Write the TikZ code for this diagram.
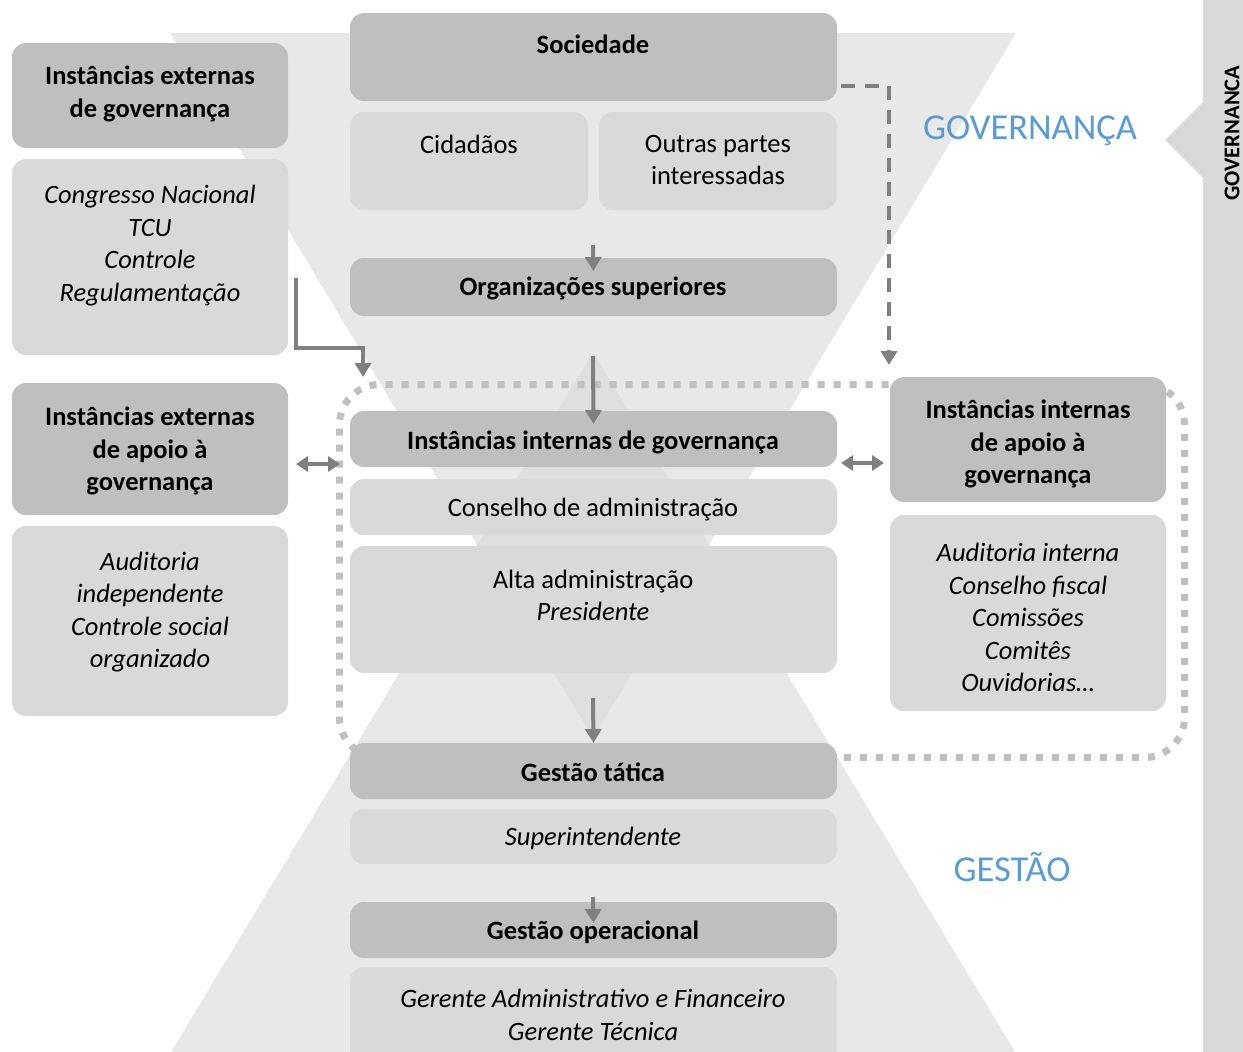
\documentclass[tikz,border=0pt]{standalone}
\usepackage{fontspec}
\setmainfont{Carlito}
\usetikzlibrary{arrows.meta,calc}
\definecolor{dk}{HTML}{BFBFBF}
\definecolor{lt}{HTML}{D9D9D9}
\definecolor{bg}{HTML}{E8E8E8}
\definecolor{ov}{HTML}{DFDFDF}
\definecolor{ar}{HTML}{808080}
\definecolor{blu}{HTML}{5B9BD5}
\definecolor{dotc}{HTML}{C0C0C0}
\begin{document}
\begin{tikzpicture}[x=1pt,y=-1pt,
 box/.style={rounded corners=14pt, inner sep=0pt, outer sep=0pt, anchor=north west},
 dbox/.style={box, fill=dk},
 lbox/.style={box, fill=lt},
 txt/.style={font=\fontsize{26.5}{32.5}\selectfont, align=center, inner sep=0pt},
 btxt/.style={txt, font=\fontsize{26.5}{32.5}\selectfont\bfseries},
 itxt/.style={txt, font=\fontsize{26.5}{32.5}\selectfont\itshape},
 arr/.style={draw=ar, line width=4pt, -{Triangle[length=14pt,width=16pt]}},
 darr/.style={draw=ar, line width=4pt, {Triangle[length=12pt,width=15pt]}-{Triangle[length=12pt,width=15pt]}},
]
\useasboundingbox (0,0) rectangle (1243,1052);
% hourglass background
\fill[bg] (170,33) -- (1016,33) -- (593,738) -- cycle;
\fill[bg] (171,1052) -- (1015,1052) -- (593,352) -- cycle;
\fill[ov] (593,352) -- (477,545) -- (593,738) -- (709,545) -- cycle;
% right bar
\fill[lt] (1203,0) rectangle (1243,1052);
\fill[lt] (1203,102) -- (1165,140) -- (1203,178) -- cycle;
\node[rotate=90, font=\fontsize{22.5}{26}\selectfont\bfseries, inner sep=0pt] (gv) at (1232,133) {GOVERNANCA};
% dotted frame
\node[draw=dotc, line width=7pt, dash pattern=on 7pt off 9pt, rounded corners=40pt,
  minimum width=845pt, minimum height=373pt, inner sep=0pt, anchor=north west] (frame) at (336,381) {};
% blue labels
\node[font=\fontsize{36.5}{40}\selectfont, text=blu, inner sep=0pt] (lgov) at (1030,131) {GOVERNANÇA};
\node[font=\fontsize{36.5}{40}\selectfont, text=blu, inner sep=0pt] (lges) at (1012,867) {GESTÃO};
% boxes
\node[dbox, minimum width=487pt, minimum height=88pt] (soc) at (350,13) {};
\node[lbox, minimum width=238pt, minimum height=98pt] (cid) at (350,112) {};
\node[lbox, minimum width=238pt, minimum height=98pt] (out) at (599,112) {};
\node[dbox, minimum width=487pt, minimum height=58pt] (org) at (350,258) {};
\node[dbox, minimum width=276pt, minimum height=105pt] (ieg) at (12,43) {};
\node[lbox, minimum width=276pt, minimum height=196pt] (cong) at (12,159) {};
\node[dbox, minimum width=276pt, minimum height=132pt] (ieag) at (12,383) {};
\node[lbox, minimum width=276pt, minimum height=190pt] (aud) at (12,526) {};
\node[dbox, minimum width=487pt, minimum height=56pt] (iig) at (350,411) {};
\node[lbox, minimum width=487pt, minimum height=56pt] (cons) at (350,479) {};
\node[lbox, minimum width=487pt, minimum height=127pt] (alta) at (350,546) {};
\node[dbox, minimum width=276pt, minimum height=125pt] (iiag) at (890,377) {};
\node[lbox, minimum width=276pt, minimum height=196pt] (audi) at (890,515) {};
\node[dbox, minimum width=487pt, minimum height=56pt] (gt) at (350,743) {};
\node[lbox, minimum width=487pt, minimum height=55pt] (sup) at (350,809) {};
\node[dbox, minimum width=487pt, minimum height=56pt] (go) at (350,902) {};
\node[lbox, minimum width=487pt, minimum height=100pt] (ger) at (350,967) {};
% texts
\node[btxt] (tsoc) at (593,44) {Sociedade};
\node[txt] (tcid) at (469,144) {Cidadãos};
\node[txt] (tout) at (718,160) {Outras partes\\interessadas};
\node[btxt] (torg) at (593,288) {Organizações superiores};
\node[btxt] (tieg) at (150,94) {Instâncias externas\\de governança};
\node[itxt] (tcong) at (150,245.5) {Congresso Nacional\\TCU\\Controle\\Regulamentação};
\node[btxt] (tieag) at (150,451) {Instâncias externas\\de apoio à\\governança};
\node[itxt] (taud) at (150,612) {Auditoria\\independente\\Controle social\\organizado};
\node[btxt] (tiig) at (593,442) {Instâncias internas de governança};
\node[txt] (tcons) at (593,510) {Conselho de administração};
\node[txt] (talta) at (593,595.5) {Alta administração\\\textit{Presidente}};
\node[btxt] (tiiag) at (1028,444) {Instâncias internas\\de apoio à\\governança};
\node[itxt] (taudi) at (1028,617.5) {Auditoria interna\\Conselho fiscal\\Comissões\\Comitês\\Ouvidorias…};
\node[btxt] (tgt) at (593,772) {Gestão tática};
\node[itxt] (tsup) at (593,838) {Superintendente};
\node[btxt] (tgo) at (593,932) {Gestão operacional};
\node[itxt] (tger) at (593,1015) {Gerente Administrativo e Financeiro\\Gerente Técnica};
% connector endpoints
\coordinate (c1) at (593,245);
\coordinate (c2) at (593,356);
\coordinate (c3) at (593,698);
\coordinate (c4) at (593,897);
\coordinate (lA) at (296,278);
\coordinate (lB) at (363,377);
\coordinate (dA) at (841,86);
\coordinate (dB) at (889,365);
\coordinate (e1) at (296,464);
\coordinate (e2) at (340,464);
\coordinate (e3) at (841,463);
\coordinate (e4) at (884,463);
% arrows
\draw[arr] (c1) -- ([yshift=-13pt]org.north);
\draw[arr] (c2) -- ([yshift=-13pt]iig.north);
\draw[arr] (c3) -- (gt.north);
\draw[arr] (c4) -- ([yshift=-21pt]go.north);
\draw[arr] (lA) -- (296,348) -- (363,348) -- (lB);
\draw[arr, dash pattern=on 14pt off 10pt] (dA) -- (889,86) -- (dB);
\draw[darr] (e1) -- (e2);
\draw[darr] (e3) -- (e4);
\end{tikzpicture}
\end{document}
